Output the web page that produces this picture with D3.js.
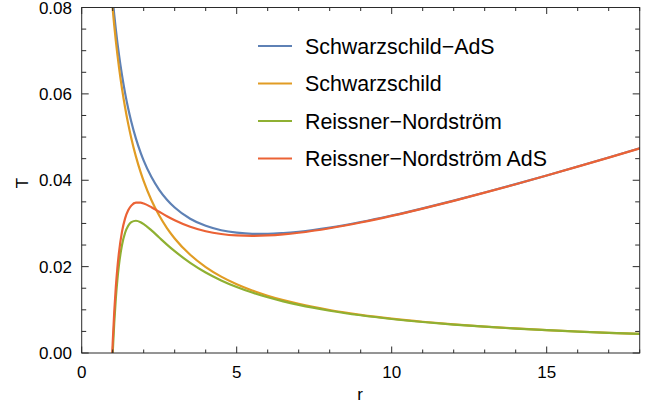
<!DOCTYPE html>
<html><head><meta charset="utf-8">
<script src="https://cdn.jsdelivr.net/npm/d3@7"></script>
<style>
html,body{margin:0;padding:0;background:#fff;}
svg{display:block;}
text{font-family:"Liberation Sans",Arial,Helvetica,sans-serif;fill:#000;}
</style></head>
<body>
<svg id="chart" width="667" height="413"></svg>
<script>
// radius values (horizon radius r)
const rValues = [0.98,1,1.05,1.1,1.15,1.2,1.3,1.4,1.5,1.6,1.75,1.9,2,2.25,2.5,2.75,3,3.5,4,4.5,5,5.5,6,6.5,7,8,9,10,11,12,13,14,15,16,17,18];
// temperature T for each series
const schwarzschildAdS = [0.083541,0.081965,0.078295,0.074969,0.071943,0.069179,0.064317,0.060183,0.056633,0.053556,0.049651,0.046419,0.044563,0.040739,0.037799,0.035502,0.033688,0.031092,0.029444,0.028427,0.027852,0.027599,0.027587,0.027760,0.028080,0.029046,0.030328,0.031831,0.033495,0.035279,0.037157,0.039107,0.041115,0.043171,0.045266,0.047393];
const schwarzschild = [0.081201,0.079578,0.075788,0.072343,0.069198,0.066315,0.061213,0.056841,0.053052,0.049736,0.045473,0.041883,0.039789,0.035368,0.031831,0.028937,0.026526,0.022736,0.019894,0.017684,0.015916,0.014469,0.013263,0.012243,0.011368,0.009947,0.008842,0.007958,0.007234,0.006631,0.006121,0.005684,0.005305,0.004974,0.004681,0.004421];
const reissnerNordstrom = [-0.003349,0,0.007046,0.012555,0.016874,0.020263,0.024993,0.027841,0.029473,0.030308,0.030625,0.030281,0.029842,0.028382,0.026738,0.025111,0.023579,0.020880,0.018651,0.016811,0.015279,0.013990,0.012895,0.011953,0.011136,0.009792,0.008733,0.007878,0.007175,0.006585,0.006085,0.005655,0.005282,0.004954,0.004665,0.004407];
const reissnerNordstromAdS = [-0.00101,0.002387,0.009553,0.015181,0.019620,0.023127,0.028096,0.031183,0.033055,0.034128,0.034802,0.034817,0.034616,0.033753,0.032706,0.031676,0.030740,0.029236,0.028200,0.027554,0.027215,0.027121,0.027219,0.027471,0.027848,0.028891,0.030219,0.031752,0.033435,0.035233,0.037120,0.039078,0.041092,0.043151,0.045249,0.047379];

const seriesNames = ["Schwarzschild\u2212AdS","Schwarzschild","Reissner\u2212Nordstr\u00f6m","Reissner\u2212Nordstr\u00f6m AdS"];
const seriesValues = [schwarzschildAdS, schwarzschild, reissnerNordstrom, reissnerNordstromAdS];
const seriesColors = ["#5E81B5","#E19C24","#8FB032","#EB6235"];

const xMajorTicks = [0,5,10,15];
const xTickLabels = ["0","5","10","15"];
const yMajorTicks = [0,0.02,0.04,0.06,0.08];
const yTickLabels = ["0.00","0.02","0.04","0.06","0.08"];

const svg = d3.select("#chart");
const L = 81.7, R = 639.7, T = 7.5, B = 353;
const x = d3.scaleLinear().domain([0,18]).range([L,R]);
const y = d3.scaleLinear().domain([0,0.08]).range([B,T]);

svg.append("defs").append("clipPath").attr("id","clip")
  .append("rect").attr("x",L).attr("y",T).attr("width",R-L).attr("height",B-T);

const line = d3.line().x(d=>x(d[0])).y(d=>y(d[1])).curve(d3.curveMonotoneX);
const g = svg.append("g").attr("clip-path","url(#clip)");
seriesValues.forEach((vals,i)=>{
  g.append("path").datum(rValues.map((r,j)=>[r,vals[j]]))
    .attr("d",line).attr("fill","none")
    .attr("stroke",seriesColors[i]).attr("stroke-width",2.2)
    .attr("stroke-linejoin","round").attr("stroke-linecap","round");
});

// frame
const frameColor = "#2b2b2b";
svg.append("rect").attr("x",L).attr("y",T).attr("width",R-L).attr("height",B-T)
  .attr("fill","none").attr("stroke",frameColor).attr("stroke-width",1);

// ticks
const xMinor = d3.range(0,19,1).filter(v=>v%5!==0);
const yMinor = d3.range(0,17,1).map(k=>k*0.005).filter((v,k)=>k%4!==0);
const tg = svg.append("g").attr("stroke",frameColor).attr("stroke-width",1);
function xt(vals,len){
  vals.forEach(v=>{
    tg.append("line").attr("x1",x(v)).attr("x2",x(v)).attr("y1",B).attr("y2",B-len);
    tg.append("line").attr("x1",x(v)).attr("x2",x(v)).attr("y1",T).attr("y2",T+len);
  });
}
function yt(vals,len){
  vals.forEach(v=>{
    tg.append("line").attr("y1",y(v)).attr("y2",y(v)).attr("x1",L).attr("x2",L+len);
    tg.append("line").attr("y1",y(v)).attr("y2",y(v)).attr("x1",R).attr("x2",R-len);
  });
}
xt(xMajorTicks,6.5); xt(xMinor,3.5);
yt(yMajorTicks,7); yt(yMinor,4.5);

// tick labels
xMajorTicks.forEach((v,i)=>{
  svg.append("text").attr("x",x(v)).attr("y",378).attr("text-anchor","middle")
    .attr("font-size",17).text(xTickLabels[i]);
});
yMajorTicks.forEach((v,i)=>{
  svg.append("text").attr("x",72).attr("y",y(v)).attr("dy","0.36em").attr("text-anchor","end")
    .attr("font-size",17).text(yTickLabels[i]);
});

// axis labels
svg.append("text").attr("x",360).attr("y",400).attr("text-anchor","middle").attr("font-size",17).text("r");
svg.append("text").attr("transform","translate(28,183) rotate(-90)").attr("text-anchor","middle").attr("font-size",17).text("T");

// legend
const legY = [46,83.5,121,158.5];
seriesNames.forEach((n,i)=>{
  svg.append("line").attr("x1",258).attr("x2",292).attr("y1",legY[i]).attr("y2",legY[i])
    .attr("stroke",seriesColors[i]).attr("stroke-width",2.2);
  svg.append("text").attr("x",305).attr("y",legY[i]).attr("dy","0.36em").attr("font-size",21.4).text(n);
});
</script>
</body></html>
